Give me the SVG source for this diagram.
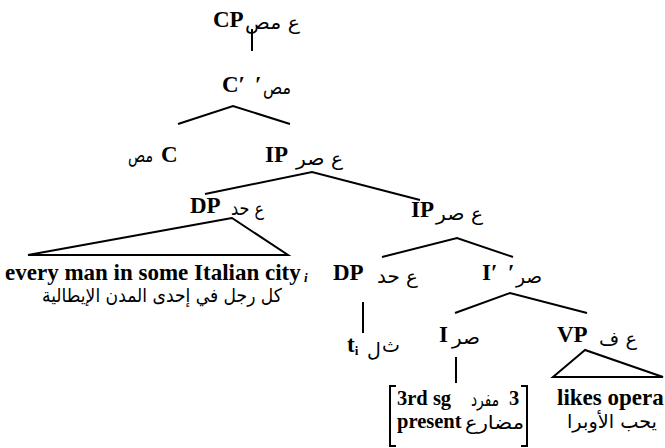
<svg xmlns="http://www.w3.org/2000/svg" width="665" height="448" viewBox="0 0 665 448">
<style>
.lat{font-family:"Liberation Serif","Times New Roman",serif;font-weight:bold;font-size:23px;fill:#000}
.box{font-size:20.5px}
.sub{font-family:"Liberation Serif",serif;font-size:13px;fill:#000}
.ar{font-family:"DejaVu Sans",sans-serif;font-size:19px;fill:#000}
.ln{stroke:#000;stroke-width:2;fill:none;stroke-linejoin:miter}
</style>
<rect width="665" height="448" fill="#fff"/>
<g id="connectors">
<line class="ln" x1="252" y1="29" x2="252" y2="51"/>
<polyline class="ln" points="178,124 233,106 290,124"/>
<polyline class="ln" points="205,194 312,172 420,200"/>
<polygon class="ln" points="232,218 28,255 288,255"/>
<polyline class="ln" points="382,257 457,238 513,257"/>
<line class="ln" x1="363" y1="302" x2="363" y2="333"/>
<polyline class="ln" points="455,313 510,293 587,313"/>
<line class="ln" x1="456" y1="357" x2="456" y2="383"/>
<polygon class="ln" points="585,350 553,377 663,377"/>
</g>
<g id="CP">
<text class="lat" x="213" y="27">CP</text>
<text class="ar" x="245" y="29" textLength="55" lengthAdjust="spacingAndGlyphs">ع مص</text>
</g>
<g id="Cbar">
<text class="lat" x="222" y="92">C′</text>
<text class="lat" x="255" y="92">′</text>
<text class="ar" x="263" y="94" textLength="28" lengthAdjust="spacingAndGlyphs">مص</text>
</g>
<g id="C">
<text class="ar" x="128" y="162" textLength="25" lengthAdjust="spacingAndGlyphs">مص</text>
<text class="lat" x="161" y="162">C</text>
</g>
<g id="IP1">
<text class="lat" x="265" y="162">IP</text>
<text class="ar" x="296" y="165" textLength="47" lengthAdjust="spacingAndGlyphs">ع صر</text>
</g>
<g id="DP1">
<text class="lat" x="190" y="213">DP</text>
<text class="ar" x="231" y="215" textLength="33" lengthAdjust="spacingAndGlyphs">ع حد</text>
<text class="lat" x="5" y="280">every man in some Italian city</text>
<text class="sub" x="304" y="282" font-style="italic" font-weight="bold">i</text>
<text class="ar" x="42" y="302" font-size="18" textLength="240" lengthAdjust="spacingAndGlyphs">كل رجل في إحدى المدن الإيطالية</text>
</g>
<g id="IP2">
<text class="lat" x="411" y="217">IP</text>
<text class="ar" x="436" y="220" textLength="47" lengthAdjust="spacingAndGlyphs">ع صر</text>
</g>
<g id="DP2">
<text class="lat" x="333" y="280">DP</text>
<text class="ar" x="377" y="283" textLength="41" lengthAdjust="spacingAndGlyphs">ع حد</text>
<text class="lat" x="347" y="352">t<tspan class="sub" font-weight="bold" dy="3">i</tspan></text>
<text class="ar" x="367" y="356" font-size="13">ل</text>
<text class="ar" x="382" y="352">ث</text>
</g>
<g id="Ibar">
<text class="lat" x="482" y="280">I′</text>
<text class="lat" x="508" y="280">′</text>
<text class="ar" x="516" y="283" textLength="26" lengthAdjust="spacingAndGlyphs">صر</text>
</g>
<g id="I">
<text class="lat" x="439" y="342">I</text>
<text class="ar" x="452" y="344" textLength="28" lengthAdjust="spacingAndGlyphs">صر</text>
<path class="ln" d="M396,386 H390 V446 H396 M521,386 H527 V446 H521"/>
<text class="lat box" x="397" y="405">3rd sg</text>
<text class="ar" x="471" y="406" font-size="17" textLength="28" lengthAdjust="spacingAndGlyphs">مفرد</text>
<text class="lat box" x="509" y="405">3</text>
<text class="lat box" x="397" y="428">present</text>
<text class="ar" x="465" y="429" textLength="59" lengthAdjust="spacingAndGlyphs">مضارع</text>
</g>
<g id="VP">
<text class="lat" x="557" y="342">VP</text>
<text class="ar" x="599" y="345" textLength="38" lengthAdjust="spacingAndGlyphs">ع ف</text>
<text class="lat" x="557" y="405">likes opera</text>
<text class="ar" x="567" y="428" textLength="90" lengthAdjust="spacingAndGlyphs">يحب الأوبرا</text>
</g>
</svg>
